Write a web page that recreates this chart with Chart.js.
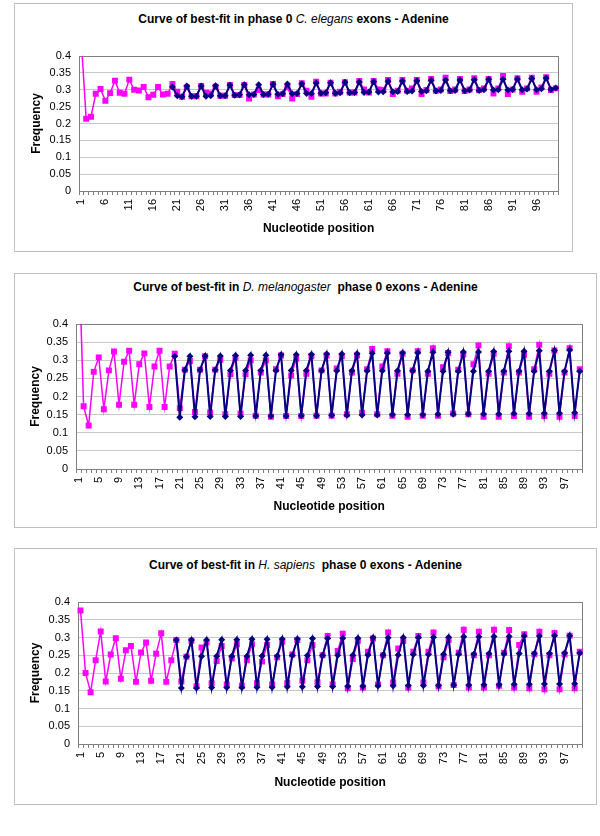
<!DOCTYPE html>
<html lang="en">
<head>
    <meta charset="UTF-8">
    <title>Curve of best-fit - Adenine</title>
    <script src="https://cdn.jsdelivr.net/npm/chart.js"></script>
    <style>
        body {
            margin: 0;
            background: #fff;
            font-family: 'Liberation Sans', Arial, sans-serif;
        }
        .frame {
            position: absolute;
            box-sizing: border-box;
            border: 1px solid #c0c0c0;
        }
        .title {
            position: absolute;
            text-align: center;
            font: bold 12px 'Liberation Sans', Arial, sans-serif;
            line-height: 14px;
            color: #000;
            white-space: pre;
        }
        .title i {
            font-weight: normal;
        }
        canvas {
            position: absolute;
        }
    </style>
</head>
<body>
    <div class="frame" style="left:14px; top:3px; width:559px; height:249px"></div>
    <div class="title" style="left:14px; top:12px; width:559px">Curve of best-fit in phase 0 <i>C. elegans</i> exons - Adenine</div>
    <canvas id="chartCe" width="559" height="249" style="left:14px; top:3px"></canvas>

    <div class="frame" style="left:14px; top:273px; width:583px; height:255px"></div>
    <div class="title" style="left:14px; top:280px; width:583px">Curve of best-fit in <i>D. melanogaster</i>  phase 0 exons - Adenine</div>
    <canvas id="chartDm" width="583" height="255" style="left:14px; top:273px"></canvas>

    <div class="frame" style="left:14px; top:548px; width:583px; height:257px"></div>
    <div class="title" style="left:14px; top:558px; width:583px">Curve of best-fit in <i>H. sapiens</i>  phase 0 exons - Adenine</div>
    <canvas id="chartHs" width="583" height="257" style="left:14px; top:548px"></canvas>

    <script>
        // nucleotide positions 1..100
        const positions = Array.from({ length: 100 }, (_, i) => String(i + 1));

        const yTickLabels = ['0', '0.05', '0.1', '0.15', '0.2', '0.25', '0.3', '0.35', '0.4'];
        const xLabelsCe = ['1', '6', '11', '16', '21', '26', '31', '36', '41', '46', '51', '56', '61', '66', '71', '76', '81', '86', '91', '96'];
        const xLabelsDm = ['1', '5', '9', '13', '17', '21', '25', '29', '33', '37', '41', '45', '49', '53', '57', '61', '65', '69', '73', '77', '81', '85', '89', '93', '97'];
        const xLabelsHs = xLabelsDm;

        // observed frequencies (pink), positions 1-100
        const observedCe = [
            0.44, 0.214, 0.220, 0.288, 0.302, 0.267, 0.290, 0.327, 0.291, 0.288,
            0.330, 0.300, 0.298, 0.308, 0.278, 0.285, 0.308, 0.286, 0.288, 0.317,
            0.294, 0.279, 0.307, 0.281, 0.281, 0.311, 0.291, 0.289, 0.309, 0.282,
            0.282, 0.314, 0.284, 0.284, 0.314, 0.274, 0.286, 0.299, 0.286, 0.286,
            0.317, 0.281, 0.287, 0.307, 0.274, 0.287, 0.319, 0.297, 0.279, 0.324,
            0.289, 0.289, 0.321, 0.289, 0.294, 0.322, 0.292, 0.292, 0.326, 0.301,
            0.292, 0.326, 0.301, 0.299, 0.329, 0.287, 0.297, 0.329, 0.297, 0.304,
            0.329, 0.287, 0.299, 0.332, 0.297, 0.301, 0.336, 0.296, 0.301, 0.332,
            0.296, 0.301, 0.334, 0.299, 0.304, 0.332, 0.289, 0.304, 0.341, 0.287,
            0.301, 0.334, 0.294, 0.304, 0.336, 0.294, 0.307, 0.337, 0.299, 0.304
        ];
        const observedDm = [
            0.62, 0.173, 0.120, 0.268, 0.308, 0.165, 0.272, 0.324, 0.177, 0.296,
            0.326, 0.177, 0.289, 0.319, 0.171, 0.283, 0.326, 0.171, 0.283, 0.318,
            0.168, 0.274, 0.298, 0.157, 0.274, 0.311, 0.156, 0.274, 0.301, 0.151,
            0.261, 0.307, 0.153, 0.261, 0.300, 0.147, 0.266, 0.300, 0.144, 0.275,
            0.313, 0.146, 0.258, 0.304, 0.146, 0.263, 0.311, 0.147, 0.272, 0.313,
            0.147, 0.277, 0.311, 0.151, 0.266, 0.313, 0.155, 0.275, 0.331, 0.151,
            0.283, 0.325, 0.147, 0.263, 0.318, 0.144, 0.272, 0.325, 0.147, 0.263,
            0.333, 0.147, 0.281, 0.320, 0.153, 0.274, 0.316, 0.151, 0.289, 0.341,
            0.144, 0.263, 0.318, 0.144, 0.266, 0.339, 0.146, 0.266, 0.315, 0.144,
            0.275, 0.343, 0.146, 0.263, 0.327, 0.144, 0.266, 0.333, 0.146, 0.275
        ];
        const observedHs = [
            0.376, 0.200, 0.146, 0.236, 0.317, 0.176, 0.252, 0.298, 0.184, 0.264,
            0.276, 0.175, 0.258, 0.286, 0.178, 0.254, 0.312, 0.175, 0.236, 0.293,
            0.176, 0.246, 0.291, 0.163, 0.272, 0.286, 0.171, 0.234, 0.276, 0.168,
            0.241, 0.281, 0.164, 0.236, 0.281, 0.171, 0.232, 0.279, 0.168, 0.244,
            0.288, 0.171, 0.252, 0.293, 0.178, 0.236, 0.279, 0.174, 0.250, 0.304,
            0.168, 0.262, 0.311, 0.157, 0.239, 0.291, 0.159, 0.260, 0.297, 0.168,
            0.250, 0.314, 0.173, 0.269, 0.290, 0.159, 0.260, 0.304, 0.173, 0.260,
            0.314, 0.162, 0.244, 0.293, 0.166, 0.257, 0.322, 0.159, 0.250, 0.316,
            0.159, 0.250, 0.322, 0.164, 0.257, 0.321, 0.159, 0.279, 0.309, 0.157,
            0.253, 0.316, 0.154, 0.250, 0.313, 0.154, 0.252, 0.305, 0.157, 0.260
        ];

        // best-fit curve (navy), positions 20-100
        const fitCe = [
            0.308, 0.282, 0.279, 0.311, 0.281, 0.281, 0.311, 0.281, 0.282, 0.312,
            0.282, 0.282, 0.314, 0.284, 0.285, 0.315, 0.285, 0.286, 0.315, 0.286,
            0.287, 0.316, 0.287, 0.288, 0.317, 0.288, 0.289, 0.318, 0.289, 0.289,
            0.320, 0.290, 0.291, 0.321, 0.290, 0.291, 0.322, 0.291, 0.292, 0.323,
            0.292, 0.293, 0.324, 0.293, 0.294, 0.325, 0.294, 0.295, 0.326, 0.295,
            0.296, 0.327, 0.295, 0.297, 0.328, 0.296, 0.298, 0.329, 0.297, 0.298,
            0.329, 0.297, 0.299, 0.330, 0.298, 0.300, 0.331, 0.299, 0.300, 0.331,
            0.299, 0.301, 0.332, 0.300, 0.302, 0.333, 0.300, 0.303, 0.335, 0.301,
            0.305
        ];
        const fitDm = [
            0.311, 0.143, 0.273, 0.311, 0.144, 0.273, 0.312, 0.145, 0.273, 0.312,
            0.145, 0.272, 0.313, 0.145, 0.272, 0.314, 0.146, 0.272, 0.314, 0.146,
            0.272, 0.315, 0.146, 0.272, 0.315, 0.147, 0.272, 0.316, 0.147, 0.271,
            0.317, 0.148, 0.271, 0.317, 0.148, 0.271, 0.318, 0.149, 0.271, 0.319,
            0.149, 0.271, 0.320, 0.150, 0.271, 0.320, 0.150, 0.271, 0.321, 0.150,
            0.270, 0.322, 0.151, 0.270, 0.322, 0.151, 0.270, 0.323, 0.152, 0.270,
            0.323, 0.152, 0.270, 0.324, 0.152, 0.270, 0.325, 0.153, 0.270, 0.325,
            0.153, 0.270, 0.326, 0.154, 0.270, 0.327, 0.154, 0.270, 0.328, 0.155,
            0.270
        ];
        const fitHs = [
            0.293, 0.158, 0.246, 0.293, 0.158, 0.247, 0.293, 0.159, 0.247, 0.294,
            0.159, 0.247, 0.294, 0.159, 0.247, 0.295, 0.160, 0.248, 0.295, 0.160,
            0.248, 0.296, 0.161, 0.249, 0.296, 0.161, 0.249, 0.297, 0.162, 0.249,
            0.297, 0.162, 0.250, 0.298, 0.163, 0.250, 0.298, 0.163, 0.251, 0.299,
            0.164, 0.251, 0.299, 0.164, 0.251, 0.300, 0.165, 0.252, 0.300, 0.165,
            0.252, 0.301, 0.165, 0.253, 0.301, 0.166, 0.253, 0.302, 0.166, 0.253,
            0.302, 0.167, 0.254, 0.303, 0.167, 0.254, 0.303, 0.168, 0.255, 0.304,
            0.168, 0.255, 0.304, 0.169, 0.255, 0.305, 0.169, 0.256, 0.305, 0.170,
            0.256
        ];
        const fitStart = 20;

        // grey border round the plot area
        const plotFrame = {
            id: 'plotFrame',
            beforeDatasetsDraw(chart) {
                const { ctx, chartArea: a } = chart;
                ctx.save();
                ctx.strokeStyle = '#808080';
                ctx.lineWidth = 1;
                ctx.strokeRect(Math.round(a.left) + 0.5, Math.round(a.top) + 0.5,
                    Math.round(a.right - a.left), Math.round(a.bottom - a.top));
                ctx.restore();
            }
        };

        function drawChart(id, observed, fit, shownLabels, pad, yWidth, xHeight) {
            const fitData = Array(fitStart - 1).fill(null).concat(fit);
            new Chart(document.getElementById(id), {
                type: 'line',
                data: {
                    labels: positions,
                    datasets: [{
                        label: 'Best fit',
                        data: fitData,
                        borderColor: '#000080',
                        backgroundColor: '#000080',
                        borderWidth: 2,
                        pointStyle: 'rectRot',
                        pointRadius: 3.5,
                        pointBorderWidth: 0,
                        tension: 0,
                        order: 0
                    }, {
                        label: 'Observed',
                        data: observed,
                        borderColor: '#ff00ff',
                        backgroundColor: '#ff00ff',
                        borderWidth: 1.5,
                        pointStyle: 'rect',
                        pointRadius: 4.2,
                        pointBorderWidth: 0,
                        tension: 0,
                        order: 1
                    }]
                },
                options: {
                    responsive: false,
                    animation: false,
                    devicePixelRatio: 1,
                    layout: { padding: pad },
                    plugins: {
                        legend: { display: false },
                        tooltip: { enabled: false }
                    },
                    scales: {
                        x: {
                            offset: true,
                            grid: {
                                offset: true,
                                drawOnChartArea: false,
                                drawTicks: true,
                                tickLength: 4,
                                color: '#808080'
                            },
                            border: { color: '#808080' },
                            ticks: {
                                autoSkip: false,
                                minRotation: 90,
                                maxRotation: 90,
                                padding: 4,
                                color: '#000',
                                font: { family: 'Liberation Sans', size: 11 },
                                callback: (v, i) => shownLabels.includes(positions[i]) ? positions[i] : ''
                            },
                            title: {
                                display: true,
                                text: 'Nucleotide position',
                                color: '#000',
                                font: { family: 'Liberation Sans', size: 12, weight: 'bold' },
                                padding: { top: 4, bottom: 4 }
                            },
                            afterFit: s => { s.height = xHeight; }
                        },
                        y: {
                            min: 0,
                            max: 0.4,
                            ticks: {
                                stepSize: 0.05,
                                padding: 8,
                                color: '#000',
                                font: { family: 'Liberation Sans', size: 11 },
                                callback: (v, i) => yTickLabels[i]
                            },
                            grid: { color: '#c8c8c8', drawTicks: false },
                            border: { display: false },
                            title: {
                                display: true,
                                text: 'Frequency',
                                color: '#000',
                                font: { family: 'Liberation Sans', size: 12, weight: 'bold' },
                                padding: { top: 4, bottom: 4 }
                            },
                            afterFit: s => { s.width = yWidth; }
                        }
                    }
                },
                plugins: [plotFrame]
            });
        }

        drawChart('chartCe', observedCe, fitCe, xLabelsCe, { left: 11, right: 12, top: 53, bottom: 12 }, 54, 49);
        drawChart('chartDm', observedDm, fitDm, xLabelsDm, { left: 10, right: 13, top: 51, bottom: 10 }, 52, 49);
        drawChart('chartHs', observedHs, fitHs, xLabelsHs, { left: 10, right: 14, top: 54, bottom: 11 }, 54, 50);
    </script>
</body>
</html>
